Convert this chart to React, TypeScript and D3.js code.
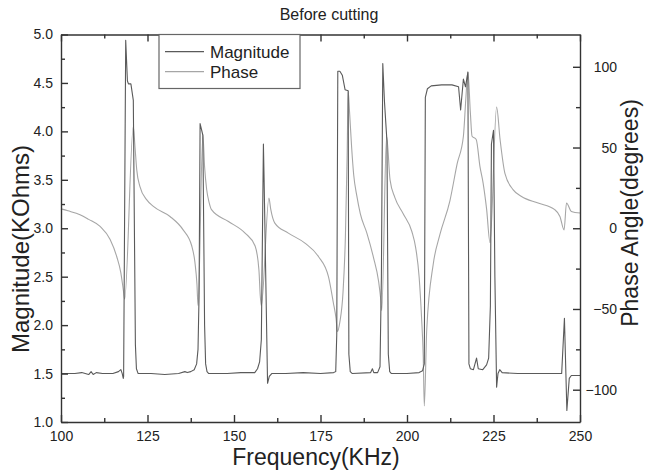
import React, { useEffect, useRef } from 'react';
import * as d3 from 'd3';

const W = 646;
const H = 473;
const margin = { top: 34.5, right: 66, bottom: 51, left: 61 };

const freqTicks = [100, 125, 150, 175, 200, 225, 250];
const freqMinor = [112.5, 137.5, 162.5, 187.5, 212.5, 237.5];
const magTicks = [1.0, 1.5, 2.0, 2.5, 3.0, 3.5, 4.0, 4.5, 5.0];
const magMinor = [1.25, 1.75, 2.25, 2.75, 3.25, 3.75, 4.25, 4.75];
const phaseTicks = [-100, -50, 0, 50, 100];
const phaseMinor = [-75, -25, 25, 75];

// dark trace (Magnitude, KOhms)
const magFreq = [100, 104, 106, 108, 108.7, 109.3, 110.2, 112, 115, 116.6, 117.3, 117.7, 118.0, 118.1, 118.7, 119.2, 119.5, 120.2, 120.9, 121.5, 121.8, 122.3,
  126, 130, 134, 135.8, 136.5, 137.5, 138.5, 139.2, 139.6, 139.9, 140.2, 141.0, 141.5, 141.8, 142.2, 142.7,
  148, 152, 156, 156.8, 157.4, 157.9, 158.5, 158.7, 159.7, 160.2, 160.9,
  165, 170, 175, 178.8, 179.4, 179.7, 180.0, 180.6, 181.3, 182.1, 183.0, 183.2, 183.6, 184.2,
  189.5, 190.0, 190.4, 191.5, 192.2, 192.6, 193.0, 193.5, 194.2, 194.6, 195.0, 195.5,
  200, 203.5, 204.5, 205.0, 205.3, 205.9, 207.0, 210.0, 213.0, 214.9, 215.5, 216.3, 216.9, 217.6, 217.9, 218.3, 219.2, 220.1, 220.6, 221.9, 223.0, 223.6, 224.1, 224.4, 225.0, 225.4, 225.9, 226.3, 226.8, 227.5,
  232, 238, 244.7, 245.5, 246.2, 246.9, 247.5, 250];
const magVal = [1.50, 1.50, 1.51, 1.49, 1.52, 1.49, 1.51, 1.50, 1.50, 1.52, 1.54, 1.50, 1.45, 1.47, 4.94, 4.52, 4.49, 4.49, 4.32, 1.8, 1.55, 1.50,
  1.50, 1.49, 1.50, 1.52, 1.51, 1.52, 1.54, 1.60, 1.75, 2.3, 4.08, 3.96, 2.0, 1.6, 1.52, 1.50,
  1.50, 1.51, 1.51, 1.55, 1.62, 1.85, 3.87, 3.5, 1.40, 1.47, 1.50,
  1.50, 1.51, 1.50, 1.51, 1.52, 1.9, 4.62, 4.62, 4.58, 4.43, 4.42, 1.7, 1.52, 1.50,
  1.51, 1.55, 1.51, 1.51, 1.57, 2.5, 4.70, 4.3, 3.9, 1.7, 1.52, 1.50,
  1.50, 1.51, 1.53, 1.60, 4.35, 4.44, 4.47, 4.48, 4.48, 4.46, 4.22, 4.54, 4.46, 4.61, 1.6, 1.55, 1.54, 1.66, 1.55, 1.54, 1.59, 1.66, 2.2, 3.87, 4.01, 2.5, 1.36, 1.50, 1.54, 1.51,
  1.50, 1.50, 1.50, 2.07, 1.12, 1.45, 1.48, 1.48];

// light trace (Phase, degrees)
const phaseFreq = [100, 102, 105.5, 108, 111.3, 114.2, 116.1, 117.3, 118.0, 118.4, 120.9, 121.4, 121.9, 122.8, 124.8, 126.7, 131.5, 135.3, 137.8, 138.7, 139.3, 139.6,
  141.0, 141.5, 142.1, 142.8, 143.5, 148.4, 153.2, 156.1, 157.2, 157.6, 157.9,
  160.1, 160.6, 161.8, 165.7, 170.5, 174.4, 177.3, 178.7, 179.5, 179.9, 180.6, 181.5, 182.2, 182.7, 183.0,
  183.4, 184.0, 184.6, 185.5, 186.5, 188.4, 190.3, 191.8, 192.5, 192.7,
  194.1, 195.1, 196.5, 198.9, 201.4, 202.5, 203.5, 204.2, 204.7, 205.0,
  205.7, 207.6, 209.5, 212.4, 214.5, 216.3, 217.0, 217.6, 218.3, 218.8, 220.0, 221.1, 222.0, 223.0, 224.0,
  225.9, 226.9, 228.3, 230.7, 233.1, 237.9, 242.7, 244.2, 245.4, 246.1, 247.5, 250];
const phaseVal = [12, 10.8, 8.4, 5.5, 1.1, -7, -17.5, -27.6, -38, -44, 63, 50, 36, 26, 17.6, 13.5, 7.3, -1, -11, -21, -35, -48,
  58, 38, 24, 16, 11.5, 4.2, -3, -11, -25.7, -42, -48,
  18.7, 12, 3.2, -3, -9.2, -17.5, -30, -46, -56, -64, -58, -40, -5, 45, 85,
  72, 50, 33, 20, 9, -3, -18, -33, -46, -51,
  57, 30, 19, 9, -2, -12, -30, -55, -80, -110,
  -63, -22, -4, 17, 40, 57, 80, 97, 72, 57, 55, 38, 28, 12, -9,
  75, 55, 34, 23.8, 19.7, 15.6, 11.5, 7.3, -1, 15.6, 10.4, 9.4];

const FONT = 'Liberation Sans, Arial, Helvetica, sans-serif';
const DARK = '#5a5a5a';
const LIGHT = '#a6a6a6';

export default function App() {
  const svgRef = useRef<SVGSVGElement>(null);

  useEffect(() => {
    const svg = d3.select(svgRef.current);
    svg.selectAll('*').remove();

    const x0 = margin.left, x1 = W - margin.right;
    const y0 = margin.top, y1 = H - margin.bottom;

    const x = d3.scaleLinear().domain([100, 250]).range([x0, x1]);
    const yM = d3.scaleLinear().domain([1, 5]).range([y1, y0]);
    const yP = d3.scaleLinear().domain([-120, 120]).range([y1, y0]);

    const g = svg.append('g');

    const magLine = d3.line<number>().x((d, i) => x(magFreq[i])).y(d => yM(d));
    const phaseLine = d3.line<number>().x((d, i) => x(phaseFreq[i])).y(d => yP(d))
      .curve(d3.curveMonotoneX);

    g.append('path').attr('d', phaseLine(phaseVal) as string)
      .attr('fill', 'none').attr('stroke', LIGHT).attr('stroke-width', 1.1).attr('stroke-linejoin', 'round');
    g.append('path').attr('d', magLine(magVal) as string)
      .attr('fill', 'none').attr('stroke', DARK).attr('stroke-width', 1.1).attr('stroke-linejoin', 'round');

    const styleAxis = (sel: any) => {
      sel.selectAll('path, line').attr('stroke', '#333').attr('stroke-width', 1.4);
      sel.selectAll('text').attr('font-family', FONT).attr('font-size', 14).attr('fill', '#222');
    };

    // bottom
    g.append('g').attr('transform', `translate(0,${y1})`)
      .call(d3.axisBottom(x).tickValues(freqTicks).tickSizeInner(-7).tickSizeOuter(0).tickPadding(9).tickFormat(d3.format('d')))
      .call(styleAxis);
    g.append('g').attr('transform', `translate(0,${y1})`)
      .call(d3.axisBottom(x).tickValues(freqMinor).tickSizeInner(-4).tickSizeOuter(0).tickFormat(() => ''))
      .call(styleAxis).select('.domain').remove();
    // top
    g.append('g').attr('transform', `translate(0,${y0})`)
      .call(d3.axisTop(x).tickValues(freqTicks).tickSizeInner(-7).tickSizeOuter(0).tickFormat(() => ''))
      .call(styleAxis);
    g.append('g').attr('transform', `translate(0,${y0})`)
      .call(d3.axisTop(x).tickValues(freqMinor).tickSizeInner(-4).tickSizeOuter(0).tickFormat(() => ''))
      .call(styleAxis).select('.domain').remove();
    // left
    g.append('g').attr('transform', `translate(${x0},0)`)
      .call(d3.axisLeft(yM).tickValues(magTicks).tickSizeInner(-7).tickSizeOuter(0).tickPadding(8).tickFormat(d3.format('.1f')))
      .call(styleAxis);
    g.append('g').attr('transform', `translate(${x0},0)`)
      .call(d3.axisLeft(yM).tickValues(magMinor).tickSizeInner(-4).tickSizeOuter(0).tickFormat(() => ''))
      .call(styleAxis).select('.domain').remove();
    // right
    const ra = g.append('g').attr('transform', `translate(${x1},0)`)
      .call(d3.axisRight(yP).tickValues(phaseTicks).tickSizeInner(-7).tickSizeOuter(0).tickFormat(d3.format('d')))
      .call(styleAxis);
    ra.selectAll('text').attr('text-anchor', 'end').attr('x', 37);
    g.append('g').attr('transform', `translate(${x1},0)`)
      .call(d3.axisRight(yP).tickValues(phaseMinor).tickSizeInner(-4).tickSizeOuter(0).tickFormat(() => ''))
      .call(styleAxis).select('.domain').remove();

    // legend
    const lg = g.append('g');
    lg.append('rect').attr('x', 159).attr('y', y0).attr('width', 141).attr('height', 54)
      .attr('fill', '#fff').attr('stroke', '#666').attr('stroke-width', 1.2);
    lg.append('line').attr('x1', 165).attr('x2', 204).attr('y1', 51.7).attr('y2', 51.7)
      .attr('stroke', DARK).attr('stroke-width', 1.3);
    lg.append('line').attr('x1', 165).attr('x2', 204).attr('y1', 71.7).attr('y2', 71.7)
      .attr('stroke', LIGHT).attr('stroke-width', 1.2);
    lg.append('text').attr('x', 210).attr('y', 57.5).text('Magnitude')
      .attr('font-family', FONT).attr('font-size', 17).attr('fill', '#222');
    lg.append('text').attr('x', 210).attr('y', 77.5).text('Phase')
      .attr('font-family', FONT).attr('font-size', 17).attr('fill', '#222');

    // titles
    svg.append('text').attr('x', 329).attr('y', 20).attr('text-anchor', 'middle').text('Before cutting')
      .attr('font-family', FONT).attr('font-size', 16).attr('fill', '#222');
    svg.append('text').attr('x', 316).attr('y', 465).attr('text-anchor', 'middle').text('Frequency(KHz)')
      .attr('font-family', FONT).attr('font-size', 23).attr('fill', '#222');
    svg.append('text').attr('transform', 'translate(29,249) rotate(-90)').attr('text-anchor', 'middle')
      .text('Magnitude(KOhms)').attr('font-family', FONT).attr('font-size', 24).attr('fill', '#222');
    svg.append('text').attr('transform', 'translate(638,213) rotate(-90)').attr('text-anchor', 'middle')
      .text('Phase Angle(degrees)').attr('font-family', FONT).attr('font-size', 23).attr('fill', '#222');
  }, []);

  return (
    <svg ref={svgRef} width={W} height={H}
      style={{ position: 'absolute', left: 0, top: 0, background: '#fff' }} />
  );
}
